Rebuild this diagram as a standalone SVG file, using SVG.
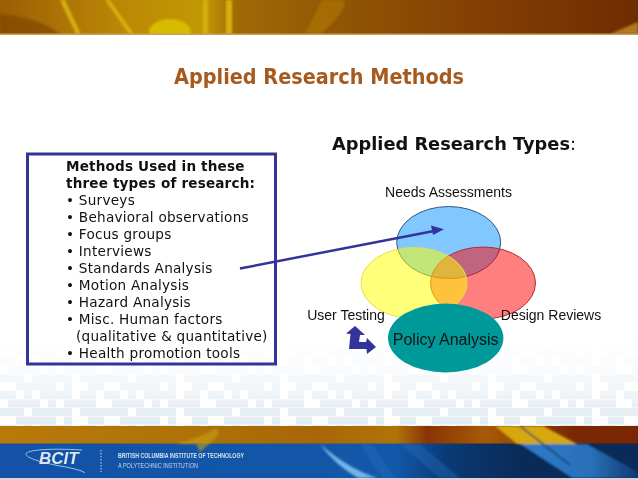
<svg xmlns="http://www.w3.org/2000/svg" width="638" height="479" viewBox="0 0 638 479">
<style>
.body{font-family:"DejaVu Sans",Verdana,sans-serif;font-size:13.6px;fill:#111;letter-spacing:.25px}
.bold{font-weight:bold;letter-spacing:.15px}
.lab{font-family:"Liberation Sans",Arial,sans-serif;font-size:14px;fill:#111}
.ven{stroke-width:1}
.sm{font-family:"Liberation Sans",Arial,sans-serif;font-size:7px}
</style>
<defs>
<linearGradient id="top" x1="0" x2="1" y1="0" y2="0">
<stop offset="0" stop-color="#9a5e04"/><stop offset=".1" stop-color="#ad7406"/><stop offset=".2" stop-color="#bb8a05"/><stop offset=".32" stop-color="#c19804"/><stop offset=".37" stop-color="#a06a05"/><stop offset=".55" stop-color="#8f5405"/><stop offset=".75" stop-color="#843f03"/><stop offset="1" stop-color="#6f2c02"/>
</linearGradient>
<linearGradient id="gold" x1="0" x2="1" y1="0" y2="0">
<stop offset="0" stop-color="#b87a08"/><stop offset=".3" stop-color="#ae7208"/><stop offset=".5" stop-color="#a86605"/><stop offset=".62" stop-color="#b07406"/><stop offset=".67" stop-color="#8a3404"/><stop offset=".76" stop-color="#a65a04"/><stop offset=".9" stop-color="#7a2804"/><stop offset="1" stop-color="#7a2602"/>
</linearGradient>
<linearGradient id="blue" x1="0" x2="1" y1="0" y2="0">
<stop offset="0" stop-color="#1352a6"/><stop offset=".5" stop-color="#1356a8"/><stop offset=".62" stop-color="#1258a8"/><stop offset=".7" stop-color="#0a3a75"/><stop offset=".82" stop-color="#0a2a58"/><stop offset="1" stop-color="#0a2a58"/>
</linearGradient>
<linearGradient id="lit" x1="0" x2="1" y1="0" y2="0">
<stop offset="0" stop-color="#2f7cc8"/><stop offset=".6" stop-color="#2a70b8"/><stop offset="1" stop-color="#0f3a70"/>
</linearGradient>
<linearGradient id="fade" x1="0" x2="0" y1="0" y2="1">
<stop offset="0" stop-color="#fff" stop-opacity="1"/><stop offset=".4" stop-color="#fff" stop-opacity=".72"/><stop offset=".72" stop-color="#fff" stop-opacity=".3"/><stop offset="1" stop-color="#fff" stop-opacity="0"/>
</linearGradient>
<pattern id="sq" width="104" height="34" patternUnits="userSpaceOnUse" x="0" y="357">
<path d="M0 0h16v8H0zM24 0h8v8h-8zM40 0h32v8H40zM80 0h16v8H80zM8 8.500h32v8H8zM48 8.500h8v8h-8zM64 8.500h32v8H64zM0 17h24v8H0zM32 17h40v8H32zM80 17h24v8H80zM16 25.500h40v8H16zM64 25.500h8v8h-8zM88 25.500h16v8H88z" fill="#e2ebf2"/>
</pattern>
<clipPath id="clipTop"><rect width="638" height="34"/></clipPath>
<clipPath id="clipBot"><rect y="426" width="638" height="52"/></clipPath>
<filter id="soft" x="-10%" y="-10%" width="120%" height="120%"><feGaussianBlur stdDeviation="1.200"/></filter>
</defs>
<rect width="638" height="479" fill="#fff"/>
<rect y="340" width="638" height="86" fill="url(#sq)"/>
<rect y="340" width="638" height="86" fill="url(#fade)"/>
<g id="banner-top">
<rect width="638" height="34" fill="url(#top)"/>
<g clip-path="url(#clipTop)">
<g filter="url(#soft)">
<path d="M60 0L76 34H81L65 0ZM105 0L129 34H134L110 0ZM203 0H208V34H203ZM226 0H232V34H226Z" fill="#d6b010"/>
<ellipse cx="170" cy="32" rx="21" ry="13" fill="#d8bb04"/>
<path d="M0 34V14Q40 18 60 34Z" fill="#7a4004" opacity=".6"/>
<path d="M610 34L638 22V34Z" fill="#b07a20"/>
<path d="M305 34L322 0H345Q345 15 320 34Z" fill="#b07a06" opacity=".6"/>
</g>
</g>
<rect y="33.500" width="638" height="1.500" fill="#c9a05a"/>
</g>
<g id="banner-bottom">
<rect y="426" width="638" height="18" fill="url(#gold)"/>
<rect y="443.500" width="638" height="34.500" fill="url(#blue)"/>
<rect y="478" width="638" height="1" fill="#cfd8e2"/>
<g clip-path="url(#clipBot)"><g filter="url(#soft)">
<path d="M175 444Q200 438 216 428L219 434Q214 440 200 452L196 444Z" fill="#c9a010" opacity=".6"/>
<path d="M320 444Q350 470 378 478H358Q335 465 320 444Z" fill="#74b4e6"/>
<path d="M360 444L382 478H395L372 444ZM400 444L440 478H460L420 444Z" fill="#2c74c0" opacity=".35"/>
<path d="M495 426H543L577 444H517Z" fill="#d6a808"/>
<path d="M520 444H587L638 472V478H572Z" fill="url(#lit)"/>
<path d="M520 426L570 465" stroke="#0a3560" stroke-width="1.500" fill="none"/>
</g></g>
<g id="logo">
<path d="M82 450C50 448 26 450 26 454C26 458 40 462 60 466C72 468 84 471 85 473" fill="none" stroke="#9fc2e4" stroke-width="1"/>
<text x="39" y="464" font-family="'Liberation Sans',Arial,sans-serif" font-size="17" font-weight="bold" font-style="italic" fill="#dbe6f2">BCIT</text>
<path d="M101 450V472" stroke="#cfdcea" stroke-width="1" stroke-dasharray="1.500 1.500"/>
<text class="sm" x="118" y="458" font-weight="bold" fill="#d5e0ec" textLength="126" lengthAdjust="spacingAndGlyphs">BRITISH COLUMBIA INSTITUTE OF TECHNOLOGY</text>
<text class="sm" x="118" y="468" fill="#c5d4e6" textLength="80" lengthAdjust="spacingAndGlyphs">A POLYTECHNIC INSTITUTION</text>
</g>
</g>
<text id="title" x="174" y="84" font-family="'DejaVu Sans',Tahoma,sans-serif" font-size="21" font-weight="bold" fill="#a65a1e" textLength="290" lengthAdjust="spacingAndGlyphs">Applied Research Methods</text>
<text id="subtitle" x="332" y="150" font-family="'DejaVu Sans',Verdana,sans-serif" font-size="17.500" fill="#111" textLength="244" lengthAdjust="spacingAndGlyphs"><tspan font-weight="bold">Applied Research Types</tspan>:</text>
<g id="methods">
<rect x="27.500" y="154" width="248" height="210" fill="none" stroke="#333399" stroke-width="3"/>
<g class="body">
<text class="bold" x="66" y="171">Methods Used in these</text>
<text class="bold" x="66" y="188">three types of research:</text>
<text x="66" y="205">• Surveys</text>
<text x="66" y="222">• Behavioral observations</text>
<text x="66" y="239">• Focus groups</text>
<text x="66" y="256">• Interviews</text>
<text x="66" y="273">• Standards Analysis</text>
<text x="66" y="290">• Motion Analysis</text>
<text x="66" y="307">• Hazard Analysis</text>
<text x="66" y="324">• Misc. Human factors</text>
<text x="76" y="341">(qualitative &amp; quantitative)</text>
<text x="66" y="358">• Health promotion tools</text>
</g>
</g>
<g id="venn-blue"><ellipse class="ven" cx="448.700" cy="242.500" rx="52" ry="36" fill="#80c8ff" stroke="#33557a"/></g>
<g id="venn-red"><ellipse class="ven" cx="483" cy="283" rx="52.500" ry="36" fill="#ff0000" fill-opacity=".5" stroke="#b03030"/></g>
<g id="venn-yellow"><ellipse class="ven" cx="414" cy="283" rx="53" ry="35.500" fill="#ffff00" fill-opacity=".52" stroke="#e6dc50"/></g>
<g id="venn-teal">
<ellipse cx="445.700" cy="338" rx="57.700" ry="34.500" fill="#009999"/>
<text x="445.700" y="345" text-anchor="middle" class="lab" style="font-size:16px">Policy Analysis</text>
</g>
<g id="label-needs"><text class="lab" x="448.500" y="197" text-anchor="middle">Needs Assessments</text></g>
<g id="label-user"><text class="lab" x="346" y="320" text-anchor="middle">User Testing</text></g>
<g id="label-design"><text class="lab" x="551" y="320" text-anchor="middle">Design Reviews</text></g>
<g id="connectors">
<path d="M240 268.500L434 231" stroke="#333399" stroke-width="2.500" fill="none"/>
<path d="M444 229.300L431 225.500L433 235Z" fill="#333399"/>
<path d="M355 326L346 333.500L350.500 334L349 349H366.500L367 354L376 347L367 338L366 342H359L360 335L365 335Z" fill="#333399"/>
</g>
</svg>
